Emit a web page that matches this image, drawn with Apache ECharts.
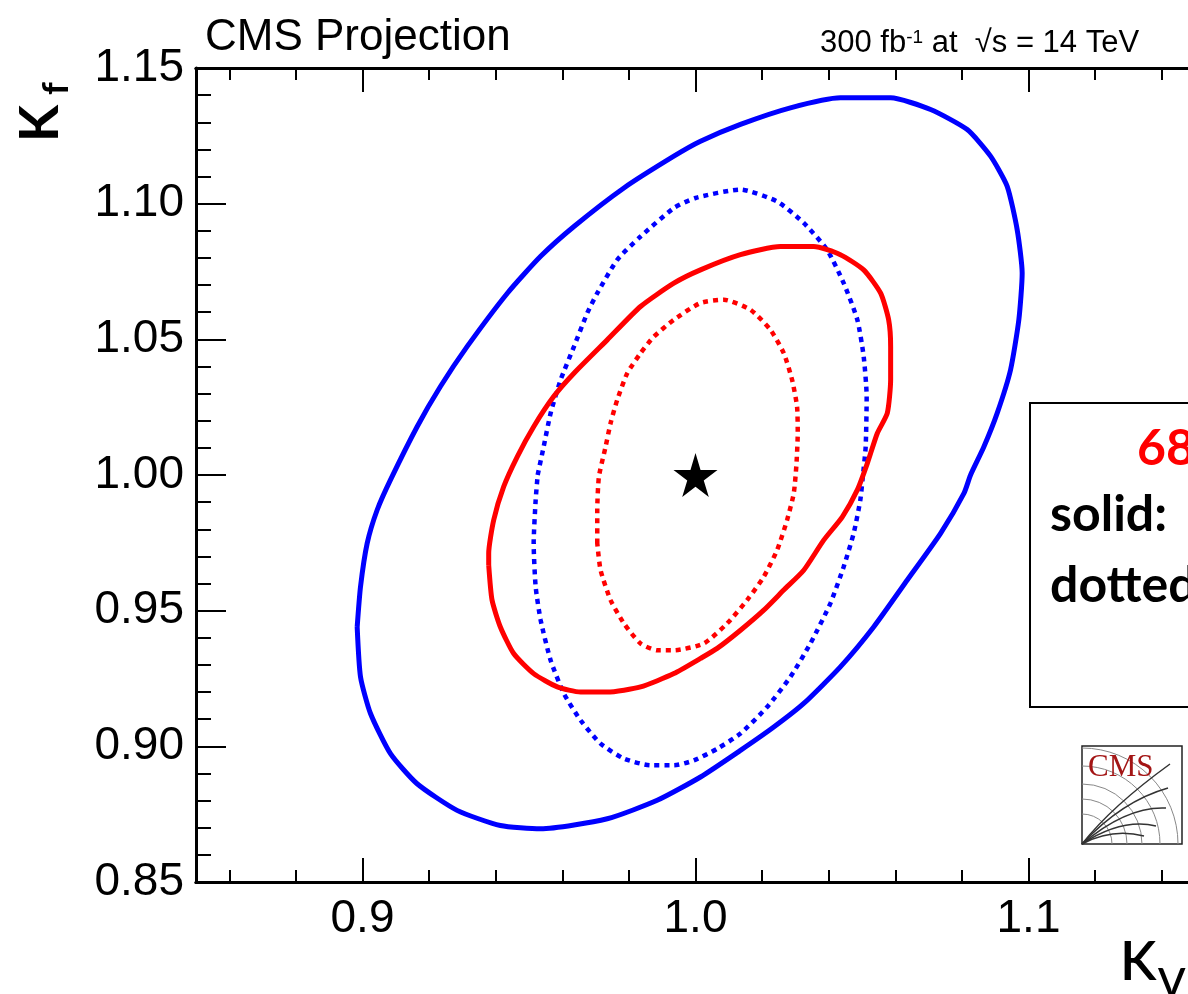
<!DOCTYPE html>
<html lang="en">
<head>
<meta charset="UTF-8">
<title>CMS Projection kappa_V vs kappa_f</title>
<script src="https://cdn.jsdelivr.net/npm/echarts@6/dist/echarts.min.js"></script>
<style>
  html, body { margin: 0; padding: 0; background: #fff; }
</style>
</head>
<body>
<div id="chart" style="width: 1188px; height: 994px;"></div>
<script>
// contours, [kappa_V, kappa_f]
const blueSolid = [
  [0.8984, 0.9440], [0.8994, 0.9588], [0.9014, 0.9748], [0.9044, 0.9871], [0.9084, 0.9982],
  [0.9164, 1.0178], [0.9234, 1.0326], [0.9314, 1.0473], [0.9435, 1.0670], [0.9535, 1.0806],
  [0.9635, 1.0916], [0.9785, 1.1058], [0.9935, 1.1175], [1.0015, 1.1230], [1.0135, 1.1292],
  [1.0285, 1.1353], [1.0435, 1.1390], [1.0586, 1.1390], [1.0706, 1.1347], [1.0816, 1.1273],
  [1.0886, 1.1175], [1.0936, 1.1064], [1.0966, 1.0904], [1.0981, 1.0744], [1.0971, 1.0572],
  [1.0946, 1.0387], [1.0906, 1.0228], [1.0866, 1.0104], [1.0826, 1.0000], [1.0806, 0.9932],
  [1.0736, 0.9785], [1.0636, 0.9613], [1.0535, 0.9440], [1.0435, 0.9293], [1.0325, 0.9158],
  [1.0235, 0.9071], [1.0135, 0.8985], [1.0015, 0.8887], [0.9885, 0.8801], [0.9735, 0.8733],
  [0.9535, 0.8696], [0.9414, 0.8708], [0.9284, 0.8764], [0.9164, 0.8862], [0.9084, 0.8973],
  [0.9024, 0.9121], [0.8994, 0.9256], [0.8984, 0.9440]
];
const blueDotted = [
  [0.9526, 1.0000], [0.9544, 1.0104], [0.9565, 1.0228], [0.9595, 1.0351], [0.9635, 1.0473],
  [0.9675, 1.0597], [0.9705, 1.0670], [0.9765, 1.0793], [0.9835, 1.0879], [0.9935, 1.0984],
  [1.0000, 1.1021], [1.0135, 1.1052], [1.0245, 1.1008], [1.0325, 1.0929], [1.0395, 1.0830],
  [1.0445, 1.0707], [1.0486, 1.0572], [1.0505, 1.0437], [1.0514, 1.0289], [1.0511, 1.0104],
  [1.0502, 0.9989], [1.0495, 0.9908], [1.0475, 0.9785], [1.0445, 0.9662], [1.0405, 0.9527],
  [1.0345, 0.9379], [1.0285, 0.9256], [1.0215, 0.9145], [1.0135, 0.9047], [1.0065, 0.8991],
  [0.9995, 0.8948], [0.9935, 0.8930], [0.9865, 0.8930], [0.9785, 0.8955], [0.9715, 0.9010],
  [0.9655, 0.9096], [0.9605, 0.9194], [0.9565, 0.9317], [0.9535, 0.9465], [0.9520, 0.9588],
  [0.9514, 0.9748], [0.9520, 0.9908], [0.9526, 1.0000]
];
const redSolid = [
  [0.9379, 0.9668], [0.9379, 0.9711], [0.9394, 0.9834], [0.9424, 0.9957], [0.9465, 1.0068],
  [0.9514, 1.0178], [0.9574, 1.0289], [0.9635, 1.0375], [0.9735, 1.0498], [0.9835, 1.0621],
  [0.9935, 1.0707], [1.0015, 1.0756], [1.0135, 1.0812], [1.0255, 1.0842], [1.0355, 1.0842],
  [1.0435, 1.0812], [1.0505, 1.0756], [1.0556, 1.0670], [1.0580, 1.0572], [1.0586, 1.0473],
  [1.0586, 1.0351], [1.0576, 1.0228], [1.0546, 1.0154], [1.0516, 1.0043], [1.0486, 0.9945],
  [1.0441, 0.9846], [1.0385, 0.9760], [1.0325, 0.9649], [1.0265, 0.9576], [1.0205, 0.9502],
  [1.0135, 0.9428], [1.0065, 0.9361], [1.0015, 0.9324], [0.9935, 0.9268], [0.9835, 0.9219],
  [0.9735, 0.9200], [0.9655, 0.9200], [0.9585, 0.9219], [0.9514, 0.9268], [0.9454, 0.9342],
  [0.9414, 0.9440], [0.9389, 0.9539], [0.9379, 0.9668]
];
const redDotted = [
  [0.9705, 0.9748], [0.9705, 0.9871], [0.9710, 0.9994], [0.9730, 1.0104], [0.9745, 1.0191],
  [0.9765, 1.0277], [0.9795, 1.0375], [0.9835, 1.0449], [0.9875, 1.0510], [0.9935, 1.0572],
  [1.0015, 1.0634], [1.0085, 1.0646], [1.0165, 1.0609], [1.0225, 1.0535], [1.0265, 1.0449],
  [1.0290, 1.0351], [1.0305, 1.0252], [1.0307, 1.0154], [1.0303, 1.0037], [1.0295, 0.9932],
  [1.0275, 0.9834], [1.0245, 0.9723], [1.0205, 0.9625], [1.0155, 0.9539], [1.0095, 0.9453],
  [1.0025, 0.9379], [0.9935, 0.9354], [0.9885, 0.9354], [0.9835, 0.9379], [0.9785, 0.9453],
  [0.9745, 0.9539], [0.9715, 0.9649], [0.9705, 0.9748]
];
const bestFit = [[1.0, 1.0]];

// axis ticks
const xMajorTicks = [0.9, 1.0, 1.1];
const xMinorTicks = [0.86, 0.88, 0.92, 0.94, 0.96, 0.98, 1.02, 1.04, 1.06, 1.08, 1.12, 1.14];

const numFont = "'Liberation Sans', Arial, sans-serif";
const boldFont = "Lato, 'Open Sans', sans-serif";
const starPath = 'path://M50,0 L61,35 L98,35 L68,57 L79,91 L50,70 L21,91 L32,57 L2,35 L39,35 Z';

const chart = echarts.init(document.getElementById('chart'));

function xAxisDef(pos, ticks, len, labels) {
  return {
    type: 'value', position: pos, min: 0.85, max: 1.15,
    axisLine: { show: true, onZero: false, lineStyle: { color: '#000', width: 3 } },
    axisTick: { show: true, inside: true, customValues: ticks, length: len, lineStyle: { color: '#000', width: 2 } },
    axisLabel: labels ? {
      show: true, customValues: ticks, margin: 14, color: '#000', fontSize: 46, fontFamily: numFont,
      formatter: v => v.toFixed(1)
    } : { show: false },
    splitLine: { show: false }
  };
}

chart.setOption({
  backgroundColor: '#fff',
  animation: false,
  grid: { left: 196, top: 68, width: 999, height: 814, outerBoundsMode: 'none', containLabel: false },
  xAxis: [
    xAxisDef('bottom', xMajorTicks, 24, true),
    xAxisDef('bottom', xMinorTicks, 12, false),
    xAxisDef('top', xMajorTicks, 24, false),
    xAxisDef('top', xMinorTicks, 12, false)
  ],
  yAxis: {
    type: 'value', min: 0.85, max: 1.15, interval: 0.05,
    axisLine: { show: true, onZero: false, lineStyle: { color: '#000', width: 3 } },
    axisTick: { show: true, inside: true, length: 30, lineStyle: { color: '#000', width: 2 } },
    minorTick: { show: true, splitNumber: 5, length: 15, lineStyle: { color: '#000', width: 2 } },
    axisLabel: { margin: 12, color: '#000', fontSize: 46, fontFamily: numFont, formatter: v => v.toFixed(2) },
    splitLine: { show: false }
  },
  series: [
    { name: 'blue solid', type: 'line', data: blueSolid, showSymbol: false, smooth: 0.2,
      lineStyle: { color: '#0000ff', width: 5 } },
    { name: 'blue dotted', type: 'line', data: blueDotted, showSymbol: false, smooth: 0.2,
      lineStyle: { color: '#0000ff', width: 4.5, type: [5, 5] } },
    { name: 'red solid', type: 'line', data: redSolid, showSymbol: false, smooth: 0.2,
      lineStyle: { color: '#ff0000', width: 5 } },
    { name: 'red dotted', type: 'line', data: redDotted, showSymbol: false, smooth: 0.2,
      lineStyle: { color: '#ff0000', width: 4.5, type: [5, 5] } },
    { name: 'best fit', type: 'scatter', data: bestFit, symbol: starPath, symbolSize: [44, 44],
      itemStyle: { color: '#000', opacity: 1 }, z: 5 }
  ],
  graphic: [
    { type: 'text', left: 205, top: 16,
      style: { text: 'CMS Projection', font: '44px ' + numFont, fill: '#000' } },
    { type: 'text', left: 820, top: 28,
      style: {
        text: '{a|300 fb}{s|-1}{a| at  √s = 14 TeV}',
        rich: {
          a: { font: '31px ' + numFont, fill: '#000', verticalAlign: 'bottom' },
          s: { font: '19px ' + numFont, fill: '#000', verticalAlign: 'top' }
        }
      } },
    // y axis title
    { type: 'group', x: 68, y: 142, rotation: Math.PI / 2, children: [
      { type: 'text', x: 0, y: 0, style: { text: 'K', font: 'bold 54px ' + boldFont, fill: '#000', textVerticalAlign: 'bottom' } },
      { type: 'text', x: 47, y: 6, style: { text: 'f', font: 'bold 36px ' + boldFont, fill: '#000', textVerticalAlign: 'bottom' } }
    ] },
    // x axis title
    { type: 'text', x: 1120, y: 990, style: { text: 'K', font: '600 54px ' + boldFont, fill: '#000', textVerticalAlign: 'bottom' } },
    { type: 'text', x: 1158, y: 1004, style: { text: 'V', font: '600 40px ' + boldFont, fill: '#000', textVerticalAlign: 'bottom' } },
    // legend box
    { type: 'rect', shape: { x: 1030, y: 403, width: 220, height: 304 },
      style: { fill: '#fff', stroke: '#000', lineWidth: 2 } },
    { type: 'text', x: 1137, y: 424, style: { text: '68% CL, 95% CL', font: 'bold 50px ' + boldFont, fill: '#ff0000' } },
    { type: 'text', x: 1050, y: 490, style: { text: 'solid:   scenario 1', font: 'bold 50px ' + boldFont, fill: '#000' } },
    { type: 'text', x: 1050, y: 561, style: { text: 'dotted: scenario 2', font: 'bold 50px ' + boldFont, fill: '#000' } },
    // CMS logo
    { type: 'group', x: 1082, y: 746, children: [
      { type: 'rect', shape: { x: 0, y: 0, width: 100, height: 98 }, style: { fill: '#fff', stroke: '#222', lineWidth: 1.5 } },
      { type: 'arc', shape: { cx: 0, cy: 98, r: 30, startAngle: -Math.PI / 2, endAngle: 0 }, style: { stroke: '#888', lineWidth: 1, fill: null } },
      { type: 'arc', shape: { cx: 0, cy: 98, r: 45, startAngle: -Math.PI / 2, endAngle: 0 }, style: { stroke: '#888', lineWidth: 1, fill: null } },
      { type: 'arc', shape: { cx: 0, cy: 98, r: 60, startAngle: -Math.PI / 2, endAngle: 0 }, style: { stroke: '#888', lineWidth: 1, fill: null } },
      { type: 'arc', shape: { cx: 0, cy: 98, r: 78, startAngle: -Math.PI / 2, endAngle: 0 }, style: { stroke: '#888', lineWidth: 1, fill: null } },
      { type: 'arc', shape: { cx: 0, cy: 98, r: 96, startAngle: -Math.PI / 2, endAngle: 0 }, style: { stroke: '#888', lineWidth: 1, fill: null } },
      { type: 'bezierCurve', shape: { x1: 0, y1: 98, cpx1: 30, cpy1: 60, x2: 88, y2: 18 }, style: { stroke: '#333', lineWidth: 1.5, fill: null } },
      { type: 'bezierCurve', shape: { x1: 0, y1: 98, cpx1: 40, cpy1: 55, x2: 86, y2: 42 }, style: { stroke: '#333', lineWidth: 1.5, fill: null } },
      { type: 'bezierCurve', shape: { x1: 0, y1: 98, cpx1: 45, cpy1: 60, x2: 84, y2: 62 }, style: { stroke: '#333', lineWidth: 1.5, fill: null } },
      { type: 'bezierCurve', shape: { x1: 0, y1: 98, cpx1: 40, cpy1: 72, x2: 74, y2: 80 }, style: { stroke: '#333', lineWidth: 1.5, fill: null } },
      { type: 'bezierCurve', shape: { x1: 0, y1: 98, cpx1: 30, cpy1: 82, x2: 62, y2: 90 }, style: { stroke: '#333', lineWidth: 1.5, fill: null } },
      { type: 'text', x: 6, y: 6, style: { text: 'CMS', font: '31px "Liberation Serif", "DejaVu Serif", serif', fill: '#a31515' } }
    ] }
  ]
});
</script>
</body>
</html>
